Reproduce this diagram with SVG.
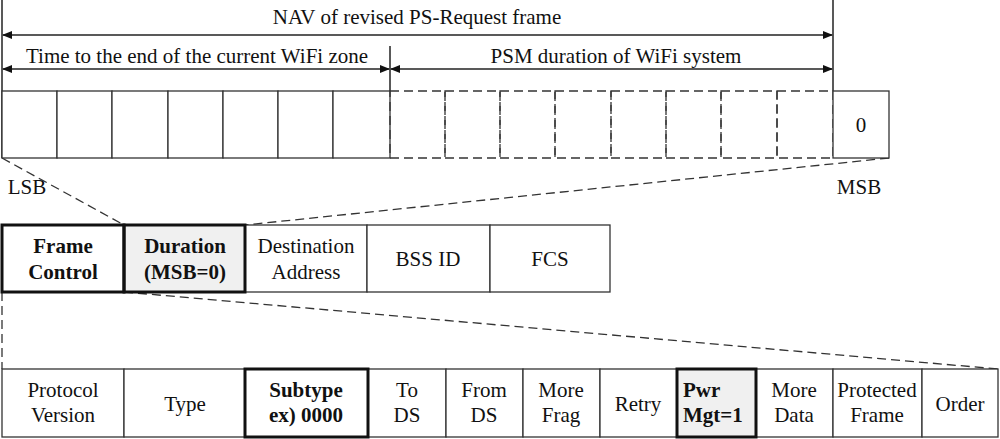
<svg xmlns="http://www.w3.org/2000/svg" width="1000" height="439" viewBox="0 0 1000 439">
<style>
text{font-family:"Liberation Serif",serif;font-size:21px;fill:#111;text-anchor:middle}
.b{font-weight:bold}
.c{fill:#fff;stroke:#333;stroke-width:1.3}
.d{fill:none;stroke:#333;stroke-width:1.3;stroke-dasharray:9,5}
.k{fill:none;stroke:#111;stroke-width:3}
.g{fill:#f0f0f0}
.l{stroke:#222;stroke-width:1.5;fill:none}
</style>
<defs><marker id="a" markerWidth="10" markerHeight="10" refX="9" refY="4" orient="auto-start-reverse" markerUnits="userSpaceOnUse"><path d="M0,0L10,4L0,8z" fill="#111"/></marker></defs>
<g id="connectors">
<line class="l" x1="2" y1="0" x2="2" y2="158"/>
<line class="l" x1="833" y1="0" x2="833" y2="91"/>
<line class="l" x1="390" y1="46" x2="390" y2="91"/>
<line class="l" x1="3" y1="35" x2="832" y2="35" marker-start="url(#a)" marker-end="url(#a)"/>
<line class="l" x1="3" y1="69" x2="389" y2="69" marker-start="url(#a)" marker-end="url(#a)"/>
<line class="l" x1="391" y1="69" x2="832" y2="69" marker-start="url(#a)" marker-end="url(#a)"/>
<line class="d" x1="2" y1="158" x2="124" y2="225"/>
<line class="d" x1="889" y1="158" x2="245" y2="225"/>
<line class="d" x1="124" y1="292" x2="998" y2="369"/>
<line class="d" x1="2" y1="292" x2="2" y2="369"/>
</g>
<text x="417" y="24">NAV of revised PS-Request frame</text>
<text x="197" y="63">Time to the end of the current WiFi zone</text>
<text x="616" y="63">PSM duration of WiFi system</text>
<g id="nav">
<rect class="c" x="2" y="91" width="55" height="67"/><rect class="c" x="57" y="91" width="55" height="67"/><rect class="c" x="112" y="91" width="56" height="67"/><rect class="c" x="168" y="91" width="55" height="67"/><rect class="c" x="223" y="91" width="55" height="67"/><rect class="c" x="278" y="91" width="55" height="67"/><rect class="c" x="333" y="91" width="57" height="67"/>
<rect class="d" x="390" y="91" width="55" height="67"/><rect class="d" x="445" y="91" width="55" height="67"/><rect class="d" x="500" y="91" width="55" height="67"/><rect class="d" x="555" y="91" width="56" height="67"/><rect class="d" x="611" y="91" width="55" height="67"/><rect class="d" x="666" y="91" width="55" height="67"/><rect class="d" x="721" y="91" width="56" height="67"/><rect class="d" x="777" y="91" width="56" height="67"/>
<rect class="c" x="833" y="91" width="56" height="67"/><text x="861" y="132">0</text>
<text x="27" y="194">LSB</text><text x="859" y="194">MSB</text>
</g>
<g id="frame">
<rect class="c" x="2" y="225" width="122" height="67"/><rect class="c g" x="124" y="225" width="121" height="67"/><rect class="c" x="245" y="225" width="122" height="67"/><rect class="c" x="367" y="225" width="123" height="67"/><rect class="c" x="490" y="225" width="120" height="67"/>
<rect class="k" x="2" y="225" width="122" height="67"/><rect class="k" x="124" y="225" width="121" height="67"/>
<text class="b" x="63" y="253">Frame</text><text class="b" x="63" y="279">Control</text>
<text class="b" x="185" y="253">Duration</text><text class="b" x="185" y="279">(MSB=0)</text>
<text x="306" y="253">Destination</text><text x="306" y="279">Address</text>
<text x="428" y="266">BSS ID</text><text x="550" y="266">FCS</text>
</g>
<g id="fc">
<rect class="c" x="2" y="369" width="122" height="68"/><rect class="c" x="124" y="369" width="121" height="68"/><rect class="c" x="245" y="369" width="123" height="68"/><rect class="c" x="368" y="369" width="78" height="68"/><rect class="c" x="446" y="369" width="77" height="68"/><rect class="c" x="523" y="369" width="77" height="68"/><rect class="c" x="600" y="369" width="77" height="68"/><rect class="c g" x="677" y="369" width="79" height="68"/><rect class="c" x="756" y="369" width="77" height="68"/><rect class="c" x="833" y="369" width="89" height="68"/><rect class="c" x="922" y="369" width="76" height="68"/>
<rect class="k" x="245" y="369" width="123" height="68"/><rect class="k" x="677" y="369" width="79" height="68"/>
<text x="63" y="397">Protocol</text><text x="63" y="422">Version</text>
<text x="185" y="411">Type</text>
<text class="b" x="306" y="397">Subtype</text><text class="b" x="306" y="422">ex) 0000</text>
<text x="407" y="397">To</text><text x="407" y="422">DS</text>
<text x="484" y="397">From</text><text x="484" y="422">DS</text>
<text x="561" y="397">More</text><text x="561" y="422">Frag</text>
<text x="638" y="411">Retry</text>
<text class="b" x="683" y="397" style="text-anchor:start">Pwr</text><text class="b" x="683" y="422" style="text-anchor:start">Mgt=1</text>
<text x="794" y="397">More</text><text x="794" y="422">Data</text>
<text x="877" y="397">Protected</text><text x="877" y="422">Frame</text>
<text x="960" y="411">Order</text>
</g>
</svg>
